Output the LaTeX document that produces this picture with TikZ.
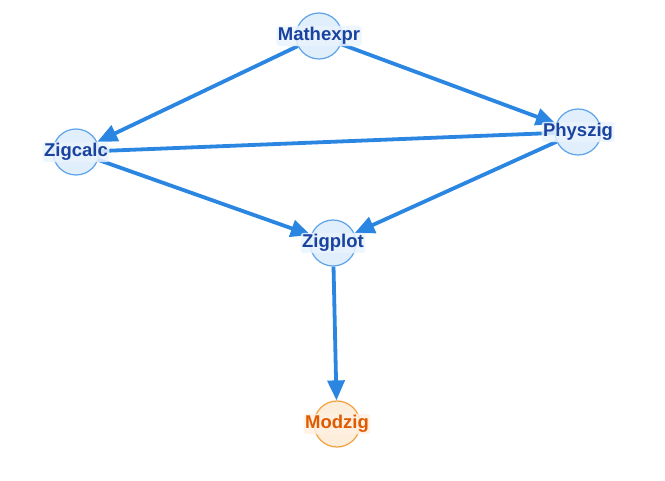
\documentclass[tikz,border=0pt]{standalone}
\usepackage{fontspec}
\setmainfont{Liberation Sans}
\usetikzlibrary{arrows.meta,backgrounds}
\definecolor{edgeblue}{HTML}{2A86E0}
\definecolor{ringblue}{HTML}{5BA3EB}
\definecolor{fillblue}{HTML}{E1EEFB}
\definecolor{textblue}{HTML}{1A43A0}
\definecolor{haloblue}{HTML}{EAF3FD}
\definecolor{ringorange}{HTML}{F5A040}
\definecolor{fillorange}{HTML}{FDEEDC}
\definecolor{textorange}{HTML}{E25A00}
\definecolor{haloorange}{HTML}{FEF1E2}

\begin{document}
\begin{tikzpicture}[x=1pt,y=-1pt,
    pkg/.style={circle,draw=ringblue,fill=fillblue,line width=1.2pt,minimum size=46pt,inner sep=0pt},
    modpkg/.style={pkg,draw=ringorange,fill=fillorange},
    pkgname/.style={font=\bfseries\fontsize{18.5}{18.5}\selectfont,text=textblue,fill=haloblue,fill opacity=0.85,text opacity=1,inner sep=1.5pt,rounded corners=3pt},
    modname/.style={pkgname,text=textorange,fill=haloorange},
    dep/.style={draw=edgeblue,line width=3.8pt,-{Triangle[length=20pt,width=17pt]}},
    link/.style={draw=edgeblue,line width=3.8pt}]
  \useasboundingbox (0,0) rectangle (665,481);

  % packages
  \node[pkg] (mathexpr) at (319,36) {};
  \node[pkg] (zigcalc) at (76,152) {};
  \node[pkg] (physzig) at (578,132) {};
  \node[pkg] (zigplot) at (333,243) {};
  \node[modpkg] (modzig) at (337,424) {};

  % dependencies
  \begin{scope}[on background layer]
    \draw[dep] (mathexpr) -- (zigcalc);
    \draw[dep] (mathexpr) -- (physzig);
    \draw[link] (physzig) -- (zigcalc);
    \draw[dep] (zigcalc) -- (zigplot);
    \draw[dep] (physzig) -- (zigplot);
    \draw[dep] (zigplot) -- (modzig);
  \end{scope}

  % names
  \node[pkgname] (mathexpr-l) at (mathexpr) {Mathexpr};
  \node[pkgname] (zigcalc-l) at (zigcalc) {Zigcalc};
  \node[pkgname] (physzig-l) at (physzig) {Physzig};
  \node[pkgname] (zigplot-l) at (zigplot) {Zigplot};
  \node[modname] (modzig-l) at (modzig) {Modzig};
\end{tikzpicture}
\end{document}
